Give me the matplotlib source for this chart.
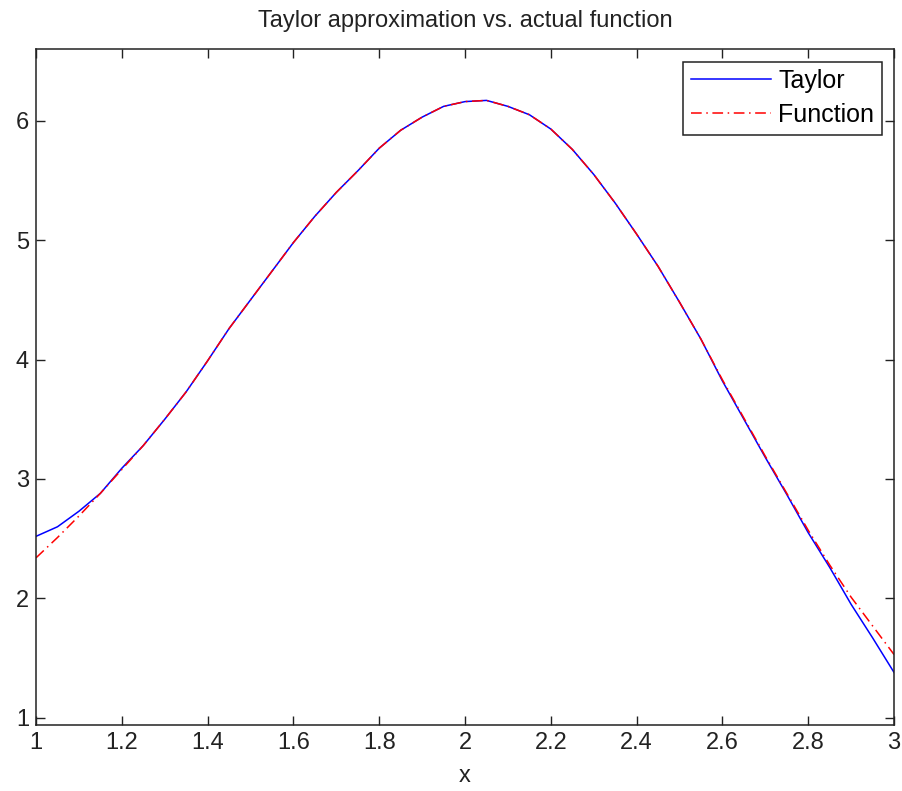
import matplotlib
matplotlib.use("Agg")
import matplotlib.pyplot as plt

plt.rcParams["font.family"] = ["Liberation Sans", "DejaVu Sans"]

# values, step 0.05
x_vals = [1.00, 1.05, 1.10, 1.15, 1.20, 1.25, 1.30, 1.35, 1.40, 1.45,
          1.50, 1.55, 1.60, 1.65, 1.70, 1.75, 1.80, 1.85, 1.90, 1.95,
          2.00, 2.05, 2.10, 2.15, 2.20, 2.25, 2.30, 2.35, 2.40, 2.45,
          2.50, 2.55, 2.60, 2.65, 2.70, 2.75, 2.80, 2.85, 2.90, 2.95, 3.00]
taylor = [2.52, 2.60, 2.73, 2.88, 3.09, 3.28, 3.50, 3.73, 3.99, 4.26,
          4.50, 4.74, 4.98, 5.20, 5.40, 5.58, 5.77, 5.92, 6.03, 6.12,
          6.16, 6.17, 6.12, 6.05, 5.93, 5.76, 5.55, 5.31, 5.05, 4.78,
          4.48, 4.17, 3.82, 3.50, 3.18, 2.87, 2.55, 2.26, 1.95, 1.67, 1.38]
function = [2.34, 2.51, 2.69, 2.88, 3.08, 3.28, 3.50, 3.73, 3.99, 4.26,
            4.50, 4.74, 4.98, 5.20, 5.40, 5.58, 5.77, 5.92, 6.03, 6.12,
            6.16, 6.17, 6.12, 6.05, 5.93, 5.76, 5.55, 5.31, 5.05, 4.78,
            4.48, 4.17, 3.83, 3.51, 3.19, 2.88, 2.57, 2.28, 2.01, 1.77, 1.53]

x_ticks = [1, 1.2, 1.4, 1.6, 1.8, 2, 2.2, 2.4, 2.6, 2.8, 3]
x_tick_labels = ["1", "1.2", "1.4", "1.6", "1.8", "2", "2.2", "2.4", "2.6", "2.8", "3"]
y_ticks = [1, 2, 3, 4, 5, 6]

fig = plt.figure(figsize=(9.03, 7.91), dpi=100)
ax = fig.add_axes([0.0399, 0.0834, 0.9502, 0.8546])

ax.plot(x_vals, taylor, color="#0000ff", lw=1.1, label="Taylor")
ax.plot(x_vals, function, color="#ff0000", lw=1.1,
        linestyle=(0, (7, 3, 1, 3)), label="Function")

ax.set_xlim(1, 3)
ax.set_ylim(0.94, 6.6)
ax.set_xticks(x_ticks)
ax.set_xticklabels(x_tick_labels)
ax.set_yticks(y_ticks)
ax.tick_params(direction="in", length=6.5, width=1, labelsize=17,
               top=True, right=True, pad=5, colors="#222222")
for s in ax.spines.values():
    s.set_linewidth(1.1)
    s.set_color("#222222")

ax.set_xlabel("x", fontsize=17, labelpad=8, color="#222222")
ax.set_title("Taylor approximation vs. actual function", fontsize=17, pad=16,
             color="#222222")

leg = ax.legend(loc="upper right", fontsize=18, frameon=True, fancybox=False,
                handlelength=3.2, handletextpad=0.3, borderpad=0.3,
                labelspacing=0.4, borderaxespad=0.5)
leg.get_frame().set_edgecolor("#222222")
leg.get_frame().set_linewidth(1.1)
leg.get_frame().set_alpha(1)

fig.savefig("out.png", dpi=100)
